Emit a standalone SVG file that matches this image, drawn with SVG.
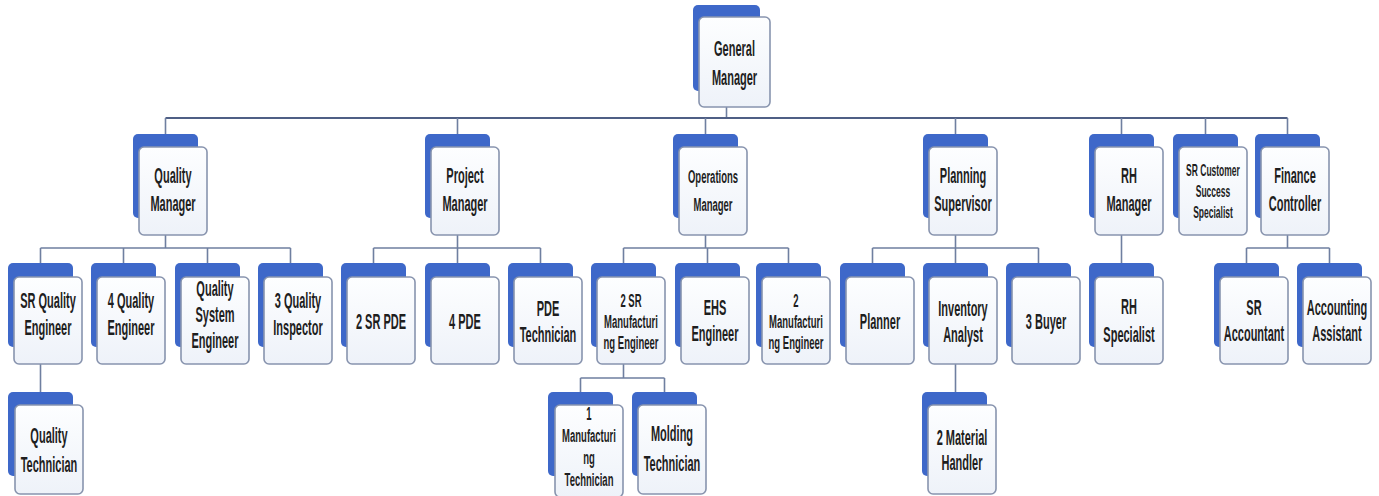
<svg xmlns="http://www.w3.org/2000/svg" width="1379" height="496" viewBox="0 0 1379 496">
<defs>
<linearGradient id="fg" x1="0" y1="0" x2="0" y2="1">
<stop offset="0" stop-color="#fdfeff"/>
<stop offset="1" stop-color="#eef2f9"/>
</linearGradient>
</defs>
<style>
.bk{fill:#3e68c9;}
.fr{fill:url(#fg);stroke:#8894ae;stroke-width:1.6;}
.t{font-family:"Liberation Sans",Arial,sans-serif;font-size:22px;font-weight:bold;fill:#1e1e1e;text-anchor:middle;}
.s{font-size:19px;}
.c{fill:none;stroke:#6f7fa0;stroke-width:1.6;}
.ct{fill:none;stroke:#4f5f85;stroke-width:2;}
</style>
<rect width="1379" height="496" fill="#ffffff"/>
<g id="connectors">
<path class="c" d="M726.5,107V118"/>
<path class="ct" d="M165.5,118H1287.5"/>
<path class="c" d="M165.5,118V134M457.5,118V134M705.5,118V134M955.5,118V134M1121.5,118V134M1205.5,118V134M1287.5,118V134"/>
<path class="c" d="M165.5,235V248M40.5,248H290.5M40.5,248V263M123.5,248V263M207.5,248V263M290.5,248V263"/>
<path class="c" d="M457.5,235V248M373.5,248H540.5M373.5,248V263M457.5,248V263M540.5,248V263"/>
<path class="c" d="M705.5,235V248M623.5,248H788.5M623.5,248V263M707.5,248V263M788.5,248V263"/>
<path class="c" d="M955.5,235V248M872.5,248H1038.5M872.5,248V263M955.5,248V263M1038.5,248V263"/>
<path class="c" d="M1121.5,235V263"/>
<path class="c" d="M1287.5,235V248M1246.5,248H1329.5M1246.5,248V263M1329.5,248V263"/>
<path class="c" d="M40.5,364V392"/>
<path class="c" d="M623.5,364V378M580.5,378H664.5M580.5,378V392M664.5,378V392"/>
<path class="c" d="M955.5,364V392"/>
</g>
<g id="n-gm"><rect class="bk" x="693" y="5" width="67" height="86" rx="5"/><rect class="fr" x="699" y="17" width="71" height="90" rx="5"/>
<text class="t" transform="translate(734.5,0) scale(0.5,1)"><tspan x="0" y="56">General</tspan><tspan x="0" y="85">Manager</tspan></text></g>

<g id="n-qm"><rect class="bk" x="133" y="134" width="65" height="84" rx="5"/><rect class="fr" x="139" y="147" width="68" height="88" rx="5"/>
<text class="t" transform="translate(173,0) scale(0.5,1)"><tspan x="0" y="183">Quality</tspan><tspan x="0" y="211">Manager</tspan></text></g>
<g id="n-pm"><rect class="bk" x="425" y="134" width="65" height="84" rx="5"/><rect class="fr" x="431" y="147" width="68" height="88" rx="5"/>
<text class="t" transform="translate(465,0) scale(0.5,1)"><tspan x="0" y="183">Project</tspan><tspan x="0" y="211">Manager</tspan></text></g>
<g id="n-om"><rect class="bk" x="673" y="134" width="65" height="84" rx="5"/><rect class="fr" x="679" y="147" width="68" height="88" rx="5"/>
<text class="t s" transform="translate(713,0) scale(0.5,1)"><tspan x="0" y="183">Operations</tspan><tspan x="0" y="211">Manager</tspan></text></g>
<g id="n-ps"><rect class="bk" x="923" y="134" width="65" height="84" rx="5"/><rect class="fr" x="929" y="147" width="68" height="88" rx="5"/>
<text class="t" transform="translate(963,0) scale(0.5,1)"><tspan x="0" y="183">Planning</tspan><tspan x="0" y="211">Supervisor</tspan></text></g>
<g id="n-rhm"><rect class="bk" x="1089" y="134" width="65" height="84" rx="5"/><rect class="fr" x="1095" y="147" width="68" height="88" rx="5"/>
<text class="t" transform="translate(1129,0) scale(0.5,1)"><tspan x="0" y="183">RH</tspan><tspan x="0" y="211">Manager</tspan></text></g>
<g id="n-scs"><rect class="bk" x="1173" y="134" width="65" height="84" rx="5"/><rect class="fr" x="1179" y="147" width="68" height="88" rx="5"/>
<text class="t" style="font-size:17px" transform="translate(1213,0) scale(0.5,1)"><tspan x="0" y="176">SR Customer</tspan><tspan x="0" y="197">Success</tspan><tspan x="0" y="218">Specialist</tspan></text></g>
<g id="n-fc"><rect class="bk" x="1255" y="134" width="65" height="84" rx="5"/><rect class="fr" x="1261" y="147" width="68" height="88" rx="5"/>
<text class="t" transform="translate(1295,0) scale(0.5,1)"><tspan x="0" y="183">Finance</tspan><tspan x="0" y="211">Controller</tspan></text></g>

<g id="n-sqe"><rect class="bk" x="8" y="263" width="65" height="84" rx="5"/><rect class="fr" x="14" y="277" width="68" height="87" rx="5"/>
<text class="t" transform="translate(48,0) scale(0.5,1)"><tspan x="0" y="308">SR Quality</tspan><tspan x="0" y="335">Engineer</tspan></text></g>
<g id="n-4qe"><rect class="bk" x="91" y="263" width="65" height="84" rx="5"/><rect class="fr" x="97" y="277" width="68" height="87" rx="5"/>
<text class="t" transform="translate(131,0) scale(0.5,1)"><tspan x="0" y="308">4 Quality</tspan><tspan x="0" y="335">Engineer</tspan></text></g>
<g id="n-qse"><rect class="bk" x="175" y="263" width="65" height="84" rx="5"/><rect class="fr" x="181" y="277" width="68" height="87" rx="5"/>
<text class="t" transform="translate(215,0) scale(0.5,1)"><tspan x="0" y="296">Quality</tspan><tspan x="0" y="322">System</tspan><tspan x="0" y="348">Engineer</tspan></text></g>
<g id="n-3qi"><rect class="bk" x="258" y="263" width="65" height="84" rx="5"/><rect class="fr" x="264" y="277" width="68" height="87" rx="5"/>
<text class="t" transform="translate(298,0) scale(0.5,1)"><tspan x="0" y="308">3 Quality</tspan><tspan x="0" y="335">Inspector</tspan></text></g>
<g id="n-2srpde"><rect class="bk" x="341" y="263" width="65" height="84" rx="5"/><rect class="fr" x="347" y="277" width="68" height="87" rx="5"/>
<text class="t" transform="translate(381,0) scale(0.5,1)"><tspan x="0" y="329">2 SR PDE</tspan></text></g>
<g id="n-4pde"><rect class="bk" x="425" y="263" width="65" height="84" rx="5"/><rect class="fr" x="431" y="277" width="68" height="87" rx="5"/>
<text class="t" transform="translate(465,0) scale(0.5,1)"><tspan x="0" y="329">4 PDE</tspan></text></g>
<g id="n-pdet"><rect class="bk" x="508" y="263" width="65" height="84" rx="5"/><rect class="fr" x="514" y="277" width="68" height="87" rx="5"/>
<text class="t" transform="translate(548,0) scale(0.5,1)"><tspan x="0" y="316">PDE</tspan><tspan x="0" y="342">Technician</tspan></text></g>
<g id="n-2srme"><rect class="bk" x="591" y="263" width="65" height="84" rx="5"/><rect class="fr" x="597" y="277" width="68" height="87" rx="5"/>
<text class="t s" transform="translate(631,0) scale(0.5,1)"><tspan x="0" y="307">2 SR</tspan><tspan x="0" y="328">Manufacturi</tspan><tspan x="0" y="349">ng Engineer</tspan></text></g>
<g id="n-ehs"><rect class="bk" x="675" y="263" width="65" height="84" rx="5"/><rect class="fr" x="681" y="277" width="68" height="87" rx="5"/>
<text class="t" transform="translate(715,0) scale(0.5,1)"><tspan x="0" y="315">EHS</tspan><tspan x="0" y="341">Engineer</tspan></text></g>
<g id="n-2me"><rect class="bk" x="756" y="263" width="65" height="84" rx="5"/><rect class="fr" x="762" y="277" width="68" height="87" rx="5"/>
<text class="t s" transform="translate(796,0) scale(0.5,1)"><tspan x="0" y="307">2</tspan><tspan x="0" y="328">Manufacturi</tspan><tspan x="0" y="349">ng Engineer</tspan></text></g>
<g id="n-planner"><rect class="bk" x="840" y="263" width="65" height="84" rx="5"/><rect class="fr" x="846" y="277" width="68" height="87" rx="5"/>
<text class="t" transform="translate(880,0) scale(0.5,1)"><tspan x="0" y="329">Planner</tspan></text></g>
<g id="n-ia"><rect class="bk" x="923" y="263" width="65" height="84" rx="5"/><rect class="fr" x="929" y="277" width="68" height="87" rx="5"/>
<text class="t" transform="translate(963,0) scale(0.5,1)"><tspan x="0" y="316">Inventory</tspan><tspan x="0" y="342">Analyst</tspan></text></g>
<g id="n-3b"><rect class="bk" x="1006" y="263" width="65" height="84" rx="5"/><rect class="fr" x="1012" y="277" width="68" height="87" rx="5"/>
<text class="t" transform="translate(1046,0) scale(0.5,1)"><tspan x="0" y="329">3 Buyer</tspan></text></g>
<g id="n-rhs"><rect class="bk" x="1089" y="263" width="65" height="84" rx="5"/><rect class="fr" x="1095" y="277" width="68" height="87" rx="5"/>
<text class="t" transform="translate(1129,0) scale(0.5,1)"><tspan x="0" y="314">RH</tspan><tspan x="0" y="342">Specialist</tspan></text></g>
<g id="n-sra"><rect class="bk" x="1214" y="263" width="65" height="84" rx="5"/><rect class="fr" x="1220" y="277" width="68" height="87" rx="5"/>
<text class="t" transform="translate(1254,0) scale(0.5,1)"><tspan x="0" y="315">SR</tspan><tspan x="0" y="341">Accountant</tspan></text></g>
<g id="n-aa"><rect class="bk" x="1297" y="263" width="65" height="84" rx="5"/><rect class="fr" x="1303" y="277" width="68" height="87" rx="5"/>
<text class="t" transform="translate(1337,0) scale(0.5,1)"><tspan x="0" y="315">Accounting</tspan><tspan x="0" y="341">Assistant</tspan></text></g>

<g id="n-qt"><rect class="bk" x="8" y="392" width="65" height="84" rx="5"/><rect class="fr" x="15" y="405" width="68" height="89" rx="5"/>
<text class="t" transform="translate(49,0) scale(0.5,1)"><tspan x="0" y="443">Quality</tspan><tspan x="0" y="472">Technician</tspan></text></g>
<g id="n-1mt"><rect class="bk" x="548" y="392" width="65" height="84" rx="5"/><rect class="fr" x="555" y="405" width="68" height="92" rx="5"/>
<text class="t s" transform="translate(589,0) scale(0.5,1)"><tspan x="0" y="420">1</tspan><tspan x="0" y="442">Manufacturi</tspan><tspan x="0" y="464">ng</tspan><tspan x="0" y="486">Technician</tspan></text></g>
<g id="n-mt"><rect class="bk" x="632" y="392" width="65" height="84" rx="5"/><rect class="fr" x="638" y="405" width="68" height="89" rx="5"/>
<text class="t" transform="translate(672,0) scale(0.5,1)"><tspan x="0" y="441">Molding</tspan><tspan x="0" y="471">Technician</tspan></text></g>
<g id="n-2mh"><rect class="bk" x="922" y="392" width="65" height="84" rx="5"/><rect class="fr" x="928" y="405" width="68" height="89" rx="5"/>
<text class="t" transform="translate(962,0) scale(0.5,1)"><tspan x="0" y="445">2 Material</tspan><tspan x="0" y="470">Handler</tspan></text></g>
</svg>
